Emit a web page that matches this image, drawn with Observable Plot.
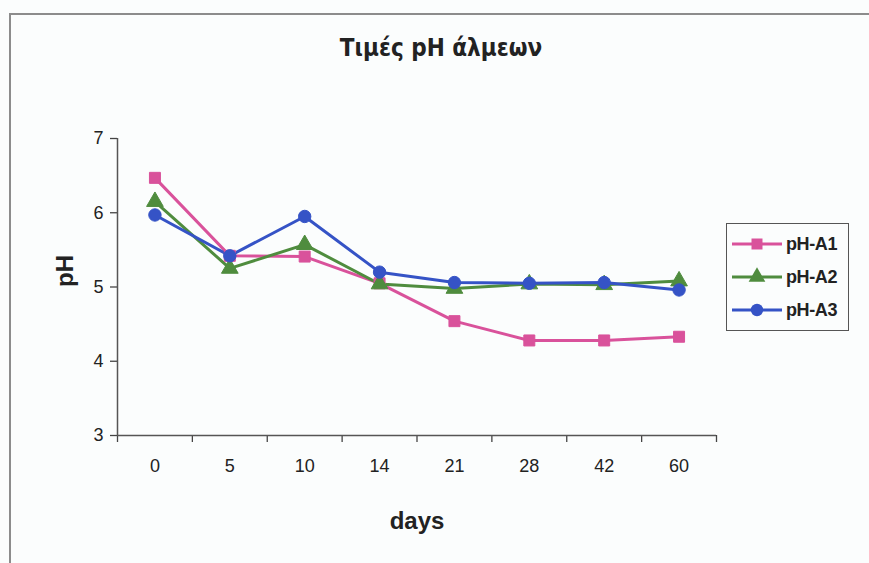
<!DOCTYPE html>
<html>
<head>
<meta charset="utf-8">
<script src="https://cdn.jsdelivr.net/npm/d3@7"></script>
<script src="https://cdn.jsdelivr.net/npm/@observablehq/plot@0.6"></script>
<style>
  html, body { margin: 0; padding: 0; background: #fbfdfd; }
  #chart { position: relative; width: 869px; height: 563px; overflow: hidden; font-family: "Liberation Sans", Arial, sans-serif; }
  #frame { position: absolute; left: 9px; top: 13px; width: 900px; height: 600px; border: 2px solid #8c8c8c; box-sizing: border-box; }
  #title { position: absolute; left: 0; width: 882px; top: 34px; text-align: center; font-family: "Liberation Sans Narrow", "DejaVu Sans Condensed", sans-serif; font-weight: bold; font-size: 24px; color: #222; }
  #plot { position: absolute; left: 0; top: 0; }
  #plot g[aria-label$="tick label"] text { font-size: 18px !important; }
  #legend { position: absolute; left: 726px; top: 223px; width: 123px; height: 108px; border: 1.5px solid #555; box-sizing: border-box; background: #fbfdfd; }
  .row { position: absolute; left: 5px; height: 20px; display: flex; align-items: center; }
  .row span { font-weight: bold; font-size: 18px; color: #222; margin-left: 4px; letter-spacing: -0.4px; }
</style>
</head>
<body>
<div id="chart">
  <div id="frame"></div>
  <div id="title">Τιμές pH άλμεων</div>
  <div id="plot"></div>
  <div id="legend"></div>
</div>
<script>
// Sampling days (categories) and brine pH for the three series
const days = ["0", "5", "10", "14", "21", "28", "42", "60"];
const pHA1 = [6.47, 5.42, 5.41, 5.05, 4.54, 4.28, 4.28, 4.33];
const pHA2 = [6.15, 5.25, 5.57, 5.04, 4.98, 5.04, 5.03, 5.08];
const pHA3 = [5.97, 5.42, 5.95, 5.20, 5.06, 5.05, 5.06, 4.96];
const seriesNames = ["pH-A1", "pH-A2", "pH-A3"];
const seriesColors = ["#d9529b", "#4f8c3e", "#3553c6"];
const seriesSymbols = ["square", "triangle", "circle"];
const yTicks = [3, 4, 5, 6, 7];

const seriesValues = [pHA1, pHA2, pHA3];
const data = seriesNames.flatMap((name, s) =>
  seriesValues[s].map((v, i) => ({series: name, i, day: days[i], pH: v}))
);

const idx = days.map((d, i) => i);
const bounds = d3.range(-0.5, days.length, 1);

const plot = Plot.plot({
  width: 869,
  height: 563,
  marginLeft: 117,
  marginRight: 153,
  marginTop: 138,
  marginBottom: 128,
  style: {background: "transparent", fontFamily: "'Liberation Sans', Arial, sans-serif", fontSize: "18px", color: "#222"},
  x: {type: "linear", domain: [-0.5, days.length - 0.5]},
  y: {domain: [3, 7]},
  color: {domain: seriesNames, range: seriesColors},
  symbol: {domain: seriesNames, range: seriesSymbols},
  marks: [
    // category boundary ticks below the x axis
    Plot.axisX({ticks: bounds, tickFormat: () => "", tickSize: 7, stroke: "#444", strokeWidth: 1.3, label: null}),
    // category labels centred in each slot
    Plot.axisX({ticks: idx, tickFormat: i => days[i], tickSize: 0, tickPadding: 24, fontSize: 18, fill: "#222", label: null}),
    Plot.axisY({ticks: yTicks, tickFormat: d => String(d), tickSize: 7, tickPadding: 7, fontSize: 18, fill: "#222", stroke: "#444", strokeWidth: 1.3, label: null}),
    Plot.ruleX([-0.5], {y1: 3, y2: 7, stroke: "#555", strokeWidth: 1.5}),
    Plot.ruleY([3], {stroke: "#555", strokeWidth: 1.5}),
    Plot.line(data, {x: "i", y: "pH", z: "series", stroke: "series", strokeWidth: 3}),
    Plot.dot(data, {x: "i", y: "pH", stroke: "series", fill: "series", symbol: "series", r: 6.2, strokeWidth: 1}),
    Plot.text(["days"], {frameAnchor: "bottom", dy: 93, fontSize: 24, fontWeight: "bold", fill: "#222"}),
    Plot.text(["pH"], {frameAnchor: "left", dx: -52, rotate: -90, fontSize: 24, fontWeight: "bold", fill: "#222"})
  ]
});
document.getElementById("plot").appendChild(plot);

// legend entries: line sample with marker, then the series name
const legend = d3.select("#legend");
seriesNames.forEach((name, s) => {
  const row = legend.append("div").attr("class", "row").style("top", (10 + s * 33) + "px");
  const svg = row.append("svg").attr("width", 50).attr("height", 20);
  svg.append("line").attr("x1", 0).attr("x2", 50).attr("y1", 10).attr("y2", 10)
    .attr("stroke", seriesColors[s]).attr("stroke-width", 3);
  const sym = {square: d3.symbolSquare, triangle: d3.symbolTriangle, circle: d3.symbolCircle}[seriesSymbols[s]];
  svg.append("path").attr("d", d3.symbol(sym, Math.PI * 6.2 * 6.2)()).attr("transform", "translate(25,10)")
    .attr("fill", seriesColors[s]);
  row.append("span").text(name);
});
</script>
</body>
</html>
